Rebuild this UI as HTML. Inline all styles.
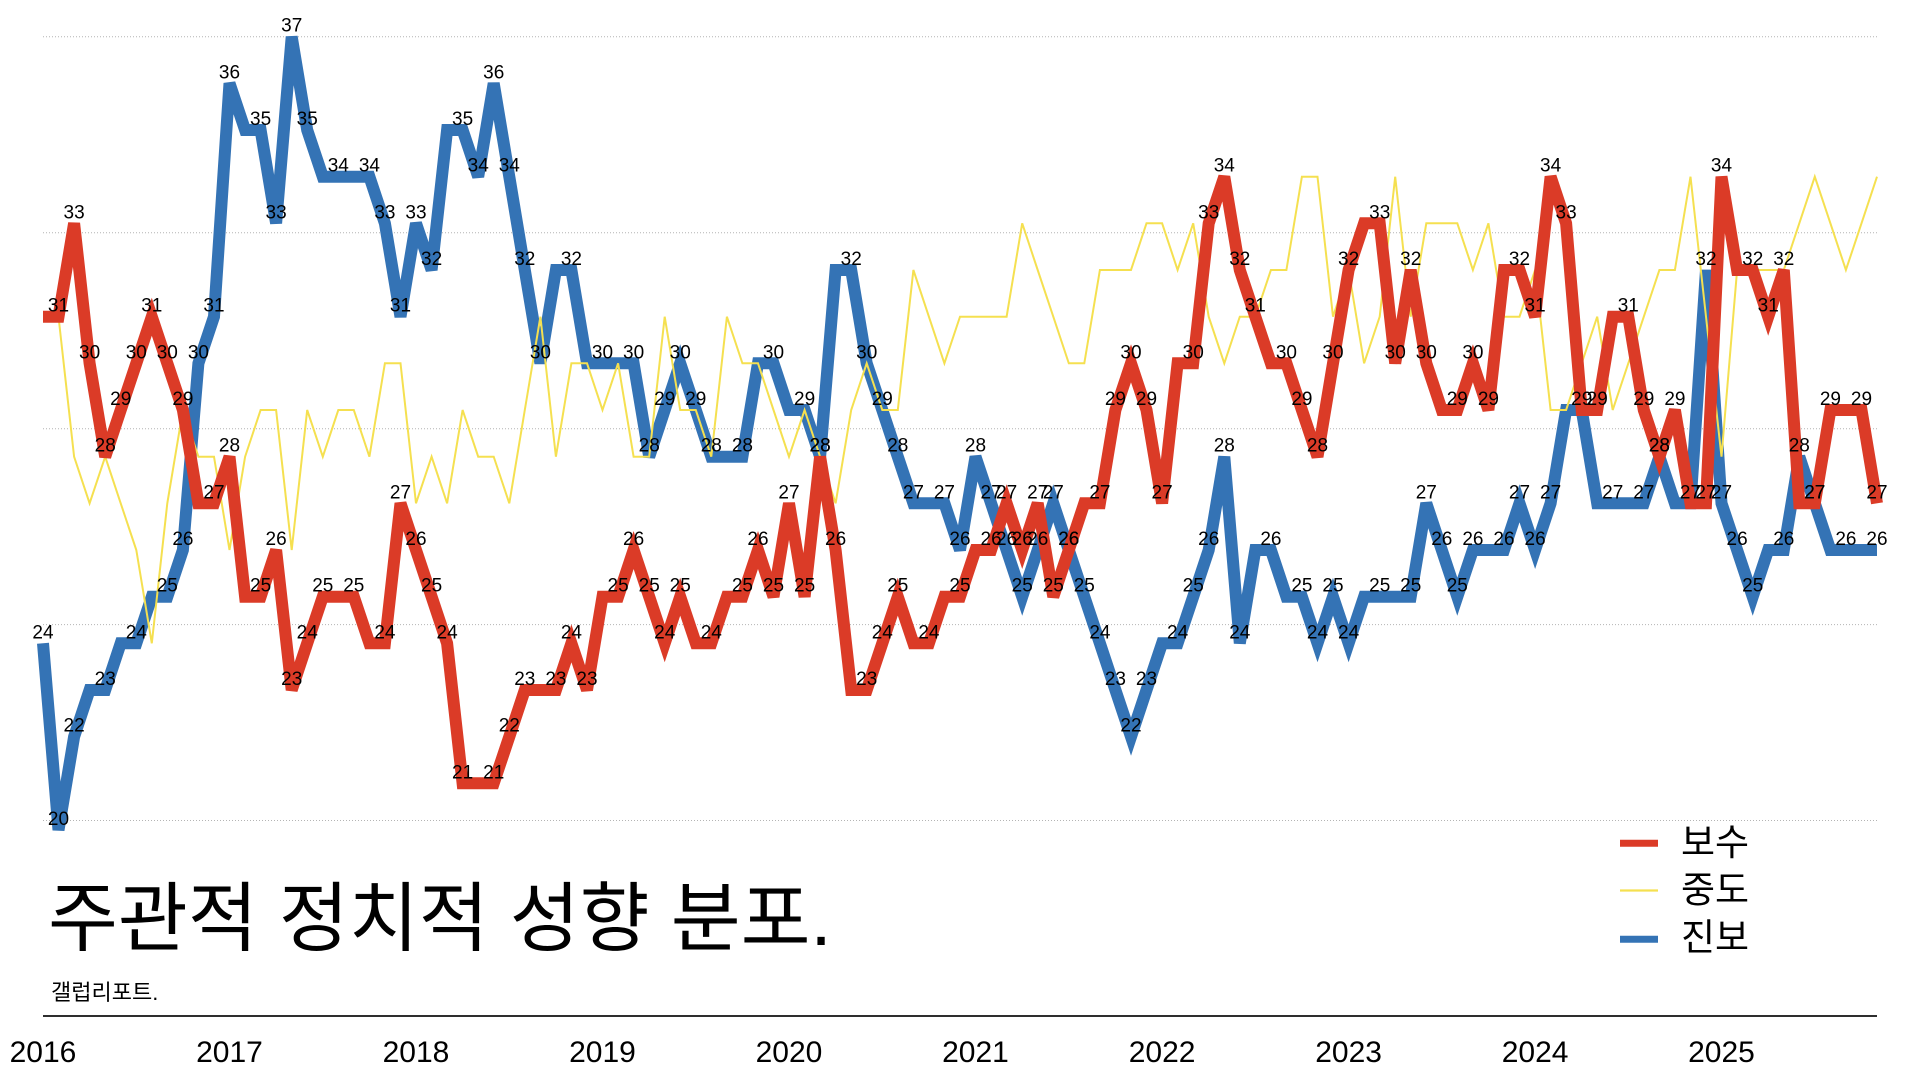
<!DOCTYPE html>
<html><head><meta charset="utf-8"><style>
html,body{margin:0;padding:0;background:#fff;}
svg{display:block;}
.lb{font-family:"Liberation Sans","Noto Sans CJK KR",sans-serif;font-size:19px;fill:#000;text-anchor:middle;}
.yr{font-family:"Liberation Sans",sans-serif;font-size:30px;fill:#000;text-anchor:middle;}
.kr{font-family:"Liberation Sans","Noto Sans CJK KR",sans-serif;fill:#000;}
</style></head><body>
<svg width="1920" height="1080" viewBox="0 0 1920 1080" xmlns="http://www.w3.org/2000/svg">
<rect width="1920" height="1080" fill="#fff"/>
<g stroke="#b4b4b4" stroke-width="1" stroke-dasharray="1 2">
<line x1="43" y1="36.8" x2="1877" y2="36.8"/>
<line x1="43" y1="232.7" x2="1877" y2="232.7"/>
<line x1="43" y1="428.7" x2="1877" y2="428.7"/>
<line x1="43" y1="624.6" x2="1877" y2="624.6"/>
<line x1="43" y1="820.5" x2="1877" y2="820.5"/>
</g>
<polyline fill="none" stroke="#3473b5" stroke-width="12" points="43,643.3 58.5,830 74.1,736.7 89.6,690 105.2,690 120.7,643.3 136.3,643.3 151.8,596.7 167.3,596.7 182.9,550 198.4,363.3 214,316.7 229.5,83.3 245.1,130 260.6,130 276.1,223.3 291.7,36.7 307.2,130 322.8,176.7 338.3,176.7 353.8,176.7 369.4,176.7 384.9,223.3 400.5,316.7 416,223.3 431.6,270 447.1,130 462.6,130 478.2,176.7 493.7,83.3 509.3,176.7 524.8,270 540.4,363.3 555.9,270 571.4,270 587,363.3 602.5,363.3 618.1,363.3 633.6,363.3 649.2,456.7 664.7,410 680.2,363.3 695.8,410 711.3,456.7 726.9,456.7 742.4,456.7 758,363.3 773.5,363.3 789,410 804.6,410 820.1,456.7 835.6,270 851.2,270 866.7,363.3 882.3,410 897.8,456.7 913.4,503.3 928.9,503.3 944.4,503.3 960,550 975.5,456.7 991.1,503.3 1006.6,550 1022.2,596.7 1037.7,550 1053.3,503.3 1068.8,550 1084.3,596.7 1099.9,643.3 1115.4,690 1131,736.7 1146.5,690 1162.1,643.3 1177.6,643.3 1193.2,596.7 1208.7,550 1224.3,456.7 1239.8,643.3 1255.3,550 1270.9,550 1286.4,596.7 1301.9,596.7 1317.5,643.3 1333,596.7 1348.6,643.3 1364.1,596.7 1379.7,596.7 1395.2,596.7 1410.7,596.7 1426.3,503.3 1441.8,550 1457.3,596.7 1472.9,550 1488.4,550 1504,550 1519.5,503.3 1535.1,550 1550.6,503.3 1566.1,410 1581.7,410 1597.2,503.3 1612.7,503.3 1628.3,503.3 1643.8,503.3 1659.4,456.7 1674.9,503.3 1690.5,503.3 1706,270 1721.5,503.3 1737.1,550 1752.7,596.7 1768.2,550 1783.8,550 1799.3,456.7 1814.8,503.3 1830.4,550 1845.9,550 1861.5,550 1877,550"/>
<polyline fill="none" stroke="#f5e050" stroke-width="2" points="43,316.7 58.5,316.7 74.1,456.7 89.6,503.3 105.2,456.7 120.7,503.3 136.3,550 151.8,643.3 167.3,503.3 182.9,410 198.4,456.7 214,456.7 229.5,550 245.1,456.7 260.6,410 276.1,410 291.7,550 307.2,410 322.8,456.7 338.3,410 353.8,410 369.4,456.7 384.9,363.3 400.5,363.3 416,503.3 431.6,456.7 447.1,503.3 462.6,410 478.2,456.7 493.7,456.7 509.3,503.3 524.8,410 540.4,316.7 555.9,456.7 571.4,363.3 587,363.3 602.5,410 618.1,363.3 633.6,456.7 649.2,456.7 664.7,316.7 680.2,410 695.8,410 711.3,456.7 726.9,316.7 742.4,363.3 758,363.3 773.5,410 789,456.7 804.6,410 820.1,456.7 835.6,503.3 851.2,410 866.7,363.3 882.3,410 897.8,410 913.4,270 928.9,316.7 944.4,363.3 960,316.7 975.5,316.7 991.1,316.7 1006.6,316.7 1022.2,223.3 1037.7,270 1053.3,316.7 1068.8,363.3 1084.3,363.3 1099.9,270 1115.4,270 1131,270 1146.5,223.3 1162.1,223.3 1177.6,270 1193.2,223.3 1208.7,316.7 1224.3,363.3 1239.8,316.7 1255.3,316.7 1270.9,270 1286.4,270 1301.9,176.7 1317.5,176.7 1333,316.7 1348.6,270 1364.1,363.3 1379.7,316.7 1395.2,176.7 1410.7,316.7 1426.3,223.3 1441.8,223.3 1457.3,223.3 1472.9,270 1488.4,223.3 1504,316.7 1519.5,316.7 1535.1,270 1550.6,410 1566.1,410 1581.7,363.3 1597.2,316.7 1612.7,410 1628.3,363.3 1643.8,316.7 1659.4,270 1674.9,270 1690.5,176.7 1706,316.7 1721.5,456.7 1737.1,270 1752.7,270 1768.2,270 1783.8,270 1799.3,223.3 1814.8,176.7 1830.4,223.3 1845.9,270 1861.5,223.3 1877,176.7"/>
<polyline fill="none" stroke="#db3b27" stroke-width="12" points="43,316.7 58.5,316.7 74.1,223.3 89.6,363.3 105.2,456.7 120.7,410 136.3,363.3 151.8,316.7 167.3,363.3 182.9,410 198.4,503.3 214,503.3 229.5,456.7 245.1,596.7 260.6,596.7 276.1,550 291.7,690 307.2,643.3 322.8,596.7 338.3,596.7 353.8,596.7 369.4,643.3 384.9,643.3 400.5,503.3 416,550 431.6,596.7 447.1,643.3 462.6,783.3 478.2,783.3 493.7,783.3 509.3,736.7 524.8,690 540.4,690 555.9,690 571.4,643.3 587,690 602.5,596.7 618.1,596.7 633.6,550 649.2,596.7 664.7,643.3 680.2,596.7 695.8,643.3 711.3,643.3 726.9,596.7 742.4,596.7 758,550 773.5,596.7 789,503.3 804.6,596.7 820.1,456.7 835.6,550 851.2,690 866.7,690 882.3,643.3 897.8,596.7 913.4,643.3 928.9,643.3 944.4,596.7 960,596.7 975.5,550 991.1,550 1006.6,503.3 1022.2,550 1037.7,503.3 1053.3,596.7 1068.8,550 1084.3,503.3 1099.9,503.3 1115.4,410 1131,363.3 1146.5,410 1162.1,503.3 1177.6,363.3 1193.2,363.3 1208.7,223.3 1224.3,176.7 1239.8,270 1255.3,316.7 1270.9,363.3 1286.4,363.3 1301.9,410 1317.5,456.7 1333,363.3 1348.6,270 1364.1,223.3 1379.7,223.3 1395.2,363.3 1410.7,270 1426.3,363.3 1441.8,410 1457.3,410 1472.9,363.3 1488.4,410 1504,270 1519.5,270 1535.1,316.7 1550.6,176.7 1566.1,223.3 1581.7,410 1597.2,410 1612.7,316.7 1628.3,316.7 1643.8,410 1659.4,456.7 1674.9,410 1690.5,503.3 1706,503.3 1721.5,176.7 1737.1,270 1752.7,270 1768.2,316.7 1783.8,270 1799.3,503.3 1814.8,503.3 1830.4,410 1845.9,410 1861.5,410 1877,503.3"/>
<g class="lb">
<text x="43" y="638.3">24</text><text x="58.5" y="825">20</text><text x="74.1" y="731.7">22</text><text x="105.2" y="685">23</text><text x="136.3" y="638.3">24</text><text x="167.3" y="591.7">25</text><text x="182.9" y="545">26</text><text x="198.4" y="358.3">30</text><text x="214" y="311.7">31</text><text x="229.5" y="78.3">36</text><text x="260.6" y="125">35</text><text x="276.1" y="218.3">33</text><text x="291.7" y="31.7">37</text><text x="307.2" y="125">35</text><text x="338.3" y="171.7">34</text><text x="369.4" y="171.7">34</text><text x="384.9" y="218.3">33</text><text x="400.5" y="311.7">31</text><text x="416" y="218.3">33</text><text x="431.6" y="265">32</text><text x="462.6" y="125">35</text><text x="478.2" y="171.7">34</text><text x="493.7" y="78.3">36</text><text x="509.3" y="171.7">34</text><text x="524.8" y="265">32</text><text x="540.4" y="358.3">30</text><text x="571.4" y="265">32</text><text x="602.5" y="358.3">30</text><text x="633.6" y="358.3">30</text><text x="649.2" y="451.7">28</text><text x="664.7" y="405">29</text><text x="680.2" y="358.3">30</text><text x="695.8" y="405">29</text><text x="711.3" y="451.7">28</text><text x="742.4" y="451.7">28</text><text x="773.5" y="358.3">30</text><text x="804.6" y="405">29</text><text x="820.1" y="451.7">28</text><text x="851.2" y="265">32</text><text x="866.7" y="358.3">30</text><text x="882.3" y="405">29</text><text x="897.8" y="451.7">28</text><text x="913.4" y="498.3">27</text><text x="944.4" y="498.3">27</text><text x="960" y="545">26</text><text x="975.5" y="451.7">28</text><text x="991.1" y="498.3">27</text><text x="1006.6" y="545">26</text><text x="1022.2" y="591.7">25</text><text x="1037.7" y="545">26</text><text x="1053.3" y="498.3">27</text><text x="1068.8" y="545">26</text><text x="1084.3" y="591.7">25</text><text x="1099.9" y="638.3">24</text><text x="1115.4" y="685">23</text><text x="1131" y="731.7">22</text><text x="1146.5" y="685">23</text><text x="1177.6" y="638.3">24</text><text x="1193.2" y="591.7">25</text><text x="1208.7" y="545">26</text><text x="1224.3" y="451.7">28</text><text x="1239.8" y="638.3">24</text><text x="1270.9" y="545">26</text><text x="1301.9" y="591.7">25</text><text x="1317.5" y="638.3">24</text><text x="1333" y="591.7">25</text><text x="1348.6" y="638.3">24</text><text x="1379.7" y="591.7">25</text><text x="1410.7" y="591.7">25</text><text x="1426.3" y="498.3">27</text><text x="1441.8" y="545">26</text><text x="1457.3" y="591.7">25</text><text x="1472.9" y="545">26</text><text x="1504" y="545">26</text><text x="1519.5" y="498.3">27</text><text x="1535.1" y="545">26</text><text x="1550.6" y="498.3">27</text><text x="1581.7" y="405">29</text><text x="1612.7" y="498.3">27</text><text x="1643.8" y="498.3">27</text><text x="1659.4" y="451.7">28</text><text x="1690.5" y="498.3">27</text><text x="1706" y="265">32</text><text x="1721.5" y="498.3">27</text><text x="1737.1" y="545">26</text><text x="1752.7" y="591.7">25</text><text x="1783.8" y="545">26</text><text x="1799.3" y="451.7">28</text><text x="1814.8" y="498.3">27</text><text x="1845.9" y="545">26</text><text x="1877" y="545">26</text>
<text x="58.5" y="311.7">31</text><text x="74.1" y="218.3">33</text><text x="89.6" y="358.3">30</text><text x="105.2" y="451.7">28</text><text x="120.7" y="405">29</text><text x="136.3" y="358.3">30</text><text x="151.8" y="311.7">31</text><text x="167.3" y="358.3">30</text><text x="182.9" y="405">29</text><text x="214" y="498.3">27</text><text x="229.5" y="451.7">28</text><text x="260.6" y="591.7">25</text><text x="276.1" y="545">26</text><text x="291.7" y="685">23</text><text x="307.2" y="638.3">24</text><text x="322.8" y="591.7">25</text><text x="353.8" y="591.7">25</text><text x="384.9" y="638.3">24</text><text x="400.5" y="498.3">27</text><text x="416" y="545">26</text><text x="431.6" y="591.7">25</text><text x="447.1" y="638.3">24</text><text x="462.6" y="778.3">21</text><text x="493.7" y="778.3">21</text><text x="509.3" y="731.7">22</text><text x="524.8" y="685">23</text><text x="555.9" y="685">23</text><text x="571.4" y="638.3">24</text><text x="587" y="685">23</text><text x="618.1" y="591.7">25</text><text x="633.6" y="545">26</text><text x="649.2" y="591.7">25</text><text x="664.7" y="638.3">24</text><text x="680.2" y="591.7">25</text><text x="711.3" y="638.3">24</text><text x="742.4" y="591.7">25</text><text x="758" y="545">26</text><text x="773.5" y="591.7">25</text><text x="789" y="498.3">27</text><text x="804.6" y="591.7">25</text><text x="820.1" y="451.7">28</text><text x="835.6" y="545">26</text><text x="866.7" y="685">23</text><text x="882.3" y="638.3">24</text><text x="897.8" y="591.7">25</text><text x="928.9" y="638.3">24</text><text x="960" y="591.7">25</text><text x="991.1" y="545">26</text><text x="1006.6" y="498.3">27</text><text x="1022.2" y="545">26</text><text x="1037.7" y="498.3">27</text><text x="1053.3" y="591.7">25</text><text x="1068.8" y="545">26</text><text x="1099.9" y="498.3">27</text><text x="1115.4" y="405">29</text><text x="1131" y="358.3">30</text><text x="1146.5" y="405">29</text><text x="1162.1" y="498.3">27</text><text x="1193.2" y="358.3">30</text><text x="1208.7" y="218.3">33</text><text x="1224.3" y="171.7">34</text><text x="1239.8" y="265">32</text><text x="1255.3" y="311.7">31</text><text x="1286.4" y="358.3">30</text><text x="1301.9" y="405">29</text><text x="1317.5" y="451.7">28</text><text x="1333" y="358.3">30</text><text x="1348.6" y="265">32</text><text x="1379.7" y="218.3">33</text><text x="1395.2" y="358.3">30</text><text x="1410.7" y="265">32</text><text x="1426.3" y="358.3">30</text><text x="1457.3" y="405">29</text><text x="1472.9" y="358.3">30</text><text x="1488.4" y="405">29</text><text x="1519.5" y="265">32</text><text x="1535.1" y="311.7">31</text><text x="1550.6" y="171.7">34</text><text x="1566.1" y="218.3">33</text><text x="1597.2" y="405">29</text><text x="1628.3" y="311.7">31</text><text x="1643.8" y="405">29</text><text x="1659.4" y="451.7">28</text><text x="1674.9" y="405">29</text><text x="1706" y="498.3">27</text><text x="1721.5" y="171.7">34</text><text x="1752.7" y="265">32</text><text x="1768.2" y="311.7">31</text><text x="1783.8" y="265">32</text><text x="1814.8" y="498.3">27</text><text x="1830.4" y="405">29</text><text x="1861.5" y="405">29</text><text x="1877" y="498.3">27</text>
</g>
<line x1="1620" y1="843.3" x2="1658" y2="843.3" stroke="#db3b27" stroke-width="7"/>
<line x1="1620" y1="890.5" x2="1658" y2="890.5" stroke="#f5e050" stroke-width="2.3"/>
<line x1="1620" y1="939.2" x2="1658" y2="939.2" stroke="#3473b5" stroke-width="7"/>
<text class="kr" x="1681" y="855" font-size="37">보수</text>
<text class="kr" x="1681" y="902.5" font-size="37">중도</text>
<text class="kr" x="1681" y="950" font-size="37">진보</text>
<text class="kr" x="48" y="945" font-size="76">주관적 정치적 성향 분포.</text>
<text class="kr" x="51" y="1000" font-size="22">갤럽리포트.</text>
<line x1="43" y1="1016" x2="1877" y2="1016" stroke="#111" stroke-width="1.7"/>
<g class="yr">
<text x="43" y="1062">2016</text><text x="229.5" y="1062">2017</text><text x="416" y="1062">2018</text><text x="602.5" y="1062">2019</text><text x="789" y="1062">2020</text><text x="975.5" y="1062">2021</text><text x="1162.1" y="1062">2022</text><text x="1348.6" y="1062">2023</text><text x="1535.1" y="1062">2024</text><text x="1721.5" y="1062">2025</text>
</g>
</svg>
</body></html>
